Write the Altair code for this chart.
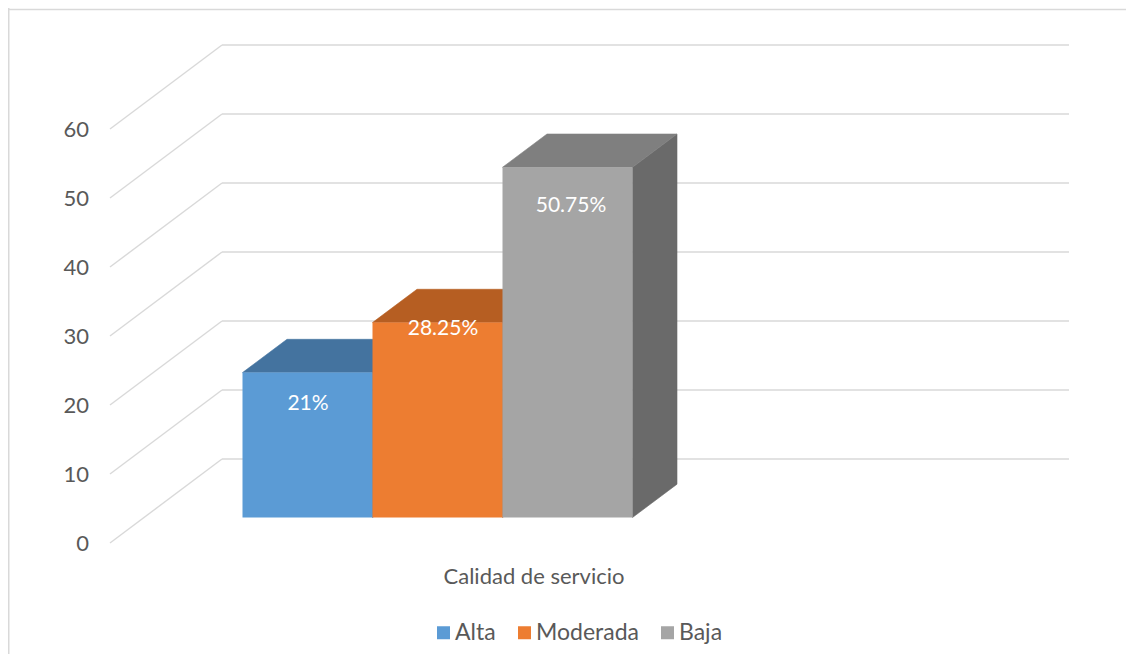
import altair as alt
import pandas as pd

# ---------------- data ----------------
categories = ["Alta", "Moderada", "Baja"]
values = [21, 28.25, 50.75]
value_labels = ["21%", "28.25%", "50.75%"]
front_colors = ["#5B9BD5", "#ED7D31", "#A5A5A5"]
top_colors = ["#44739F", "#B65E22", "#7F7F7F"]
side_colors = ["#3E6A94", "#A9561F", "#6A6A6A"]
y_ticks = [0, 10, 20, 30, 40, 50, 60]
x_title = "Calidad de servicio"
label_nudge_y = [-4.6, -0.9, -5.6]
label_nudge_x = [0.5, 5.5, 3.5]

# ---------------- layout constants ----------------
W, H = 1118, 646
PX = 6.9                       # pixels per value unit
FRONT_ZERO = 535               # canvas y of front-plane zero
Y_MIN = (FRONT_ZERO - H) / PX
Y_MAX = FRONT_ZERO / PX
FLOOR_LEFT = 102
WALL_DX = 112
WALL_DY = 84 / PX
WALL_RIGHT = 1061
BAR_LEFT = 234.5
BAR_W = 130
BAR_BASE = 25.5 / PX
BAR_DX = 44.5
BAR_DY = 33.3 / PX
TICK_X = 81
TITLE_X = 526
TITLE_Y = -4.9
GRID = "#D9D9D9"
TXT = "#595959"
FONT = "Lato"
FS = 21

xs = alt.Scale(domain=[0, W], nice=False, zero=False)
ys = alt.Scale(domain=[Y_MIN, Y_MAX], nice=False, zero=False)

# ---------------- tables ----------------
grid_rows = []
for t in y_ticks:
    grid_rows.append(dict(x=FLOOR_LEFT, y=t, x2=FLOOR_LEFT + WALL_DX, y2=t + WALL_DY))
    grid_rows.append(dict(x=FLOOR_LEFT + WALL_DX, y=t + WALL_DY, x2=WALL_RIGHT, y2=t + WALL_DY))
grid_df = pd.DataFrame(grid_rows)

bars, tops, sides, labels = [], [], [], []
for i, (c, v) in enumerate(zip(categories, values)):
    L = BAR_LEFT + i * BAR_W
    R = L + BAR_W
    Y = BAR_BASE + v
    bars.append(dict(cat=c, x=L, x2=R, y=BAR_BASE, y2=Y))
    for px_, lo, hi in [(L, Y, Y), (L + BAR_DX, Y, Y + BAR_DY),
                        (R, Y, Y + BAR_DY), (R + BAR_DX, Y + BAR_DY, Y + BAR_DY)]:
        tops.append(dict(cat=c, x=px_, y=lo, y2=hi, fill=top_colors[i]))
    for px_, lo, hi in [(R, BAR_BASE, Y), (R + BAR_DX, BAR_BASE + BAR_DY, Y + BAR_DY)]:
        sides.append(dict(cat=c, x=px_, y=lo, y2=hi, fill=side_colors[i]))
    labels.append(dict(cat=c, x=(L + R) / 2 + label_nudge_x[i], y=Y + label_nudge_y[i],
                       text=value_labels[i]))

bars_df = pd.DataFrame(bars)
tops_df = pd.DataFrame(tops)
sides_df = pd.DataFrame(sides)
labels_df = pd.DataFrame(labels)
ticks_df = pd.DataFrame(dict(x=[TICK_X] * len(y_ticks), y=y_ticks, text=[str(t) for t in y_ticks]))
title_df = pd.DataFrame(dict(x=[TITLE_X], y=[TITLE_Y], text=[x_title]))

# ---------------- layers ----------------
border = alt.Chart(pd.DataFrame({"a": [0]})).mark_rule(color=GRID, strokeWidth=1.5)
border_top = border.encode(x=alt.value(0), x2=alt.value(W), y=alt.value(1.5))
border_left = border.encode(x=alt.value(0.75), y=alt.value(0), y2=alt.value(H))

grid = alt.Chart(grid_df).mark_rule(color=GRID, strokeWidth=1.4).encode(
    x=alt.X("x:Q", scale=xs, axis=None), x2="x2:Q",
    y=alt.Y("y:Q", scale=ys, axis=None), y2="y2:Q")

side_layer = alt.Chart(sides_df).mark_area(strokeWidth=0.6).encode(
    x=alt.X("x:Q", scale=xs, axis=None),
    y=alt.Y("y:Q", scale=ys, axis=None), y2="y2:Q",
    detail="cat:N",
    fill=alt.Fill("fill:N", scale=None),
    stroke=alt.Stroke("fill:N", scale=None))

top_layer = alt.Chart(tops_df).mark_area(strokeWidth=0.6).encode(
    x=alt.X("x:Q", scale=xs, axis=None),
    y=alt.Y("y:Q", scale=ys, axis=None), y2="y2:Q",
    detail="cat:N",
    fill=alt.Fill("fill:N", scale=None),
    stroke=alt.Stroke("fill:N", scale=None))

front_layer = alt.Chart(bars_df).mark_rect().encode(
    x=alt.X("x:Q", scale=xs, axis=None), x2="x2:Q",
    y=alt.Y("y:Q", scale=ys, axis=None), y2="y2:Q",
    color=alt.Color("cat:N", sort=categories,
                    scale=alt.Scale(domain=categories, range=front_colors),
                    legend=alt.Legend(orient="none", legendX=424, legendY=613,
                                      direction="horizontal", title=None, padding=0,
                                      symbolType="square", symbolSize=169,
                                      symbolStrokeWidth=0, labelFontSize=23,
                                      labelFont=FONT, labelColor=TXT,
                                      labelOffset=0, columnPadding=17)))

value_text = alt.Chart(labels_df).mark_text(color="white", font=FONT, fontSize=FS,
                                            baseline="middle").encode(
    x=alt.X("x:Q", scale=xs, axis=None),
    y=alt.Y("y:Q", scale=ys, axis=None),
    text="text:N")

tick_text = alt.Chart(ticks_df).mark_text(color=TXT, font=FONT, fontSize=22,
                                          align="right", baseline="middle", dy=1).encode(
    x=alt.X("x:Q", scale=xs, axis=None),
    y=alt.Y("y:Q", scale=ys, axis=None),
    text="text:N")

title_text = alt.Chart(title_df).mark_text(color=TXT, font=FONT, fontSize=22,
                                           baseline="middle").encode(
    x=alt.X("x:Q", scale=xs, axis=None),
    y=alt.Y("y:Q", scale=ys, axis=None),
    text="text:N")

chart = alt.layer(border_top, border_left, grid, side_layer, top_layer, front_layer,
                  value_text, tick_text, title_text).properties(
    width=W, height=H, padding=0,
    autosize=alt.AutoSizeParams(type="none"),
    background="white"
).configure_view(strokeWidth=0)

chart.save("out.html", embed_options={"renderer": "svg", "actions": False})
